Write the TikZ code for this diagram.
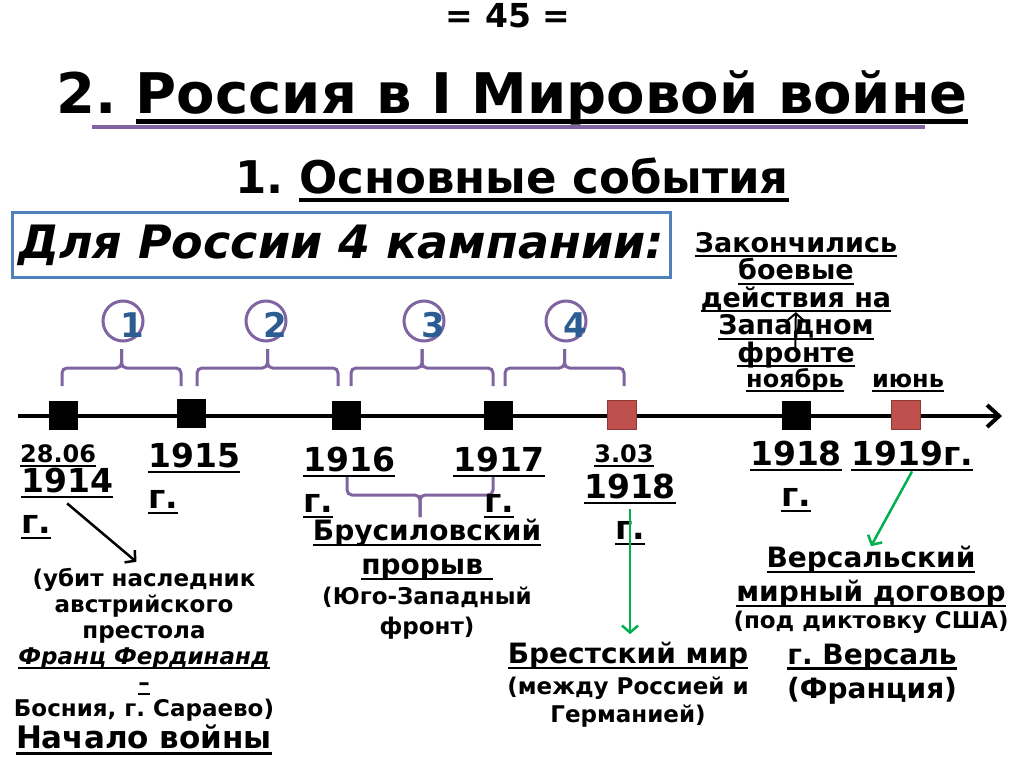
\documentclass[tikz,border=0pt]{standalone}
\usepackage{fontspec}
\setmainfont{DejaVu Sans}
\usetikzlibrary{arrows.meta,positioning}

\definecolor{lilac}{HTML}{8064A2}
\definecolor{boxblue}{HTML}{4F81BD}
\definecolor{numblue}{HTML}{2C5D92}
\definecolor{sqred}{HTML}{C0504D}
\definecolor{sqredline}{HTML}{8C3836}
\definecolor{evgreen}{HTML}{00B050}

\newcommand\ulx[1]{\setbox0\hbox{#1}\rlap{\vrule height -0.11em depth 0.19em width \wd0}\box0}
\newcommand\fsz[2]{\fontsize{#1}{#2}\selectfont\bfseries}
\frenchspacing

\tikzset{
  every node/.style={inner sep=0pt, align=center, font=\bfseries},
  sq/.style={minimum size=29pt, fill=black},
  sqr/.style={minimum size=29pt, fill=sqred, draw=sqredline, line width=1.5pt},
  yr/.style={font=\fsz{33}{41}},
  dt/.style={font=\fsz{24}{28}},
  ev/.style={font=\fsz{28}{34}},
  note/.style={font=\fsz{23}{26}},
  camp/.style={circle, draw=lilac, line width=3pt, minimum size=40pt},
  campno/.style={font=\fsz{34}{34}, text=numblue},
  brc/.style={draw=lilac, line width=3pt, rounded corners=5pt},
  arr/.style={line width=2.5pt, -{Straight Barb[length=7pt,width=16pt]}},
  garr/.style={arr, draw=evgreen},
}

\begin{document}
\begin{tikzpicture}[x=1pt,y=-1pt]
\useasboundingbox (0,0) rectangle (1024,768);

% Encabezado
\node[font=\fsz{33}{33}] (num) at (508,16) {= 45 =};
\node[font=\fsz{56}{56}, anchor=base] (title) at (512,113) {2. \ulx{Россия в I Мировой войне}};
\draw[lilac, line width=4pt] (92,127) -- (925,127); % linea bajo el titulo
\node[font=\fsz{45}{45}, anchor=base] (sub) at (512,193) {1. \ulx{Основные события}};
\node[draw=boxblue, line width=3pt, minimum width=658pt, minimum height=65pt,
      font=\fsz{46}{46}\itshape] (camps) at (341,245) {Для России 4 кампании:};

% Eje del tiempo
\coordinate (t0) at (18,416);
\coordinate (t1) at (1002,416);
\draw[line width=4pt, -{Straight Barb[length=12pt,width=22pt]}] (t0) -- (t1);

\node[sq] (s1914) at (63,415) {};
\node[sq] (s1915) at (191,413) {};
\node[sq] (s1916) at (346,415) {};
\node[sq] (s1917) at (498,415) {};
\node[sqr] (s1918a) at (622,415) {};
\node[sq] (s1918b) at (796,415) {};
\node[sqr] (s1919) at (906,415) {};

% Campanas
\foreach \i/\x in {1/123,2/266,3/424,4/566} {
    \node[camp] (c\i) at (\x,321) {};
    \node[campno] at ([shift={(9,4)}]c\i.center) {\i};
}
\foreach \a/\b in {62/181,197/338,351/493,505/624} {
    \draw[brc] (\a,386) -- (\a,368) -- ({(\a+\b)/2},368) -- ({(\a+\b)/2},349);
    \draw[brc] (\b,386) -- (\b,368) -- ({(\a+\b)/2},368) -- ({(\a+\b)/2},349);
}
\draw[brc] (347,477) -- (347,495) -- (420,495) -- (420,517); % Brusilov
\draw[brc] (493,477) -- (493,495) -- (420,495) -- (420,517);

% Fechas
\node[dt, anchor=base west] (d1914) at (20,462) {\ulx{28.06}};
\node[yr, align=left, anchor=base west] (n1914) at (21,533) {\ulx{1914}\\\ulx{г.}};
\node[yr, align=left, anchor=base west] (n1915) at (148,508) {\ulx{1915}\\\ulx{г.}};
\node[yr, align=left, anchor=base west] (n1916) at (303,512) {\ulx{1916}\\\ulx{г.}};
\node[yr, anchor=base] (n1917) at (499,512) {\ulx{1917}\\\ulx{г.}};
\node[dt, anchor=base] (d1918) at (624,462) {\ulx{3.03}};
\node[yr, anchor=base] (n1918a) at (630,539) {\ulx{1918}\\\ulx{г.}};
\node[yr, anchor=base] (n1918b) at (796,506) {\ulx{1918}\\\ulx{г.}};
\node[yr, anchor=base] (n1919) at (912,465) {\ulx{1919г.}};
\node[font=\fsz{24}{24}, anchor=base] (nov) at (795,387) {\ulx{ноябрь}};
\node[font=\fsz{24}{24}, anchor=base] (jun) at (908,387) {\ulx{июнь}};

% Acontecimientos
\node[note] (death) at (144,645) {(убит наследник\\австрийского\\престола\\\ulx{\itshape Франц Фердинанд}\\\ulx{–}\\Босния, г. Сараево)};
\node[font=\fsz{31}{31}] (start) at (144,740) {\ulx{Начало войны}};
\node[ev] (brus) at (427,550) {\ulx{Брусиловский}\\\ulx{прорыв~}};
\node[note, font=\fsz{23}{30}] (swf) at (427,613) {(Юго-Западный\\фронт)};
\node[ev] (brest) at (628,656) {\ulx{Брестский мир}};
\node[note, font=\fsz{23}{28}] (brestx) at (628,702) {(между Россией и\\Германией)};
\node[font=\fsz{27}{27.5}] (ended) at (796,300) {\ulx{Закончились}\\\ulx{боевые}\\\ulx{действия на}\\\ulx{Западном}\\\ulx{фронте}};
\node[ev] (versal) at (871,577) {\ulx{Версальский}\\\ulx{мирный договор}};
\node[note] (usa) at (871,622) {(под диктовку США)};
\node[ev] (paris) at (872,674) {\ulx{г. Версаль}\\(Франция)};

% Flechas
\draw[arr, shorten >=10pt] (n1914.center) -- (death.north);
\draw[garr, shorten >=8pt] (n1918a.center) -- (n1918a.center |- brest.north);
\draw[garr] (n1919.south) -- (versal.north);
\draw[arr, line width=2pt, shorten <=16pt, shorten >=12pt] (nov.north) -- (ended.center);

\end{tikzpicture}
\end{document}
